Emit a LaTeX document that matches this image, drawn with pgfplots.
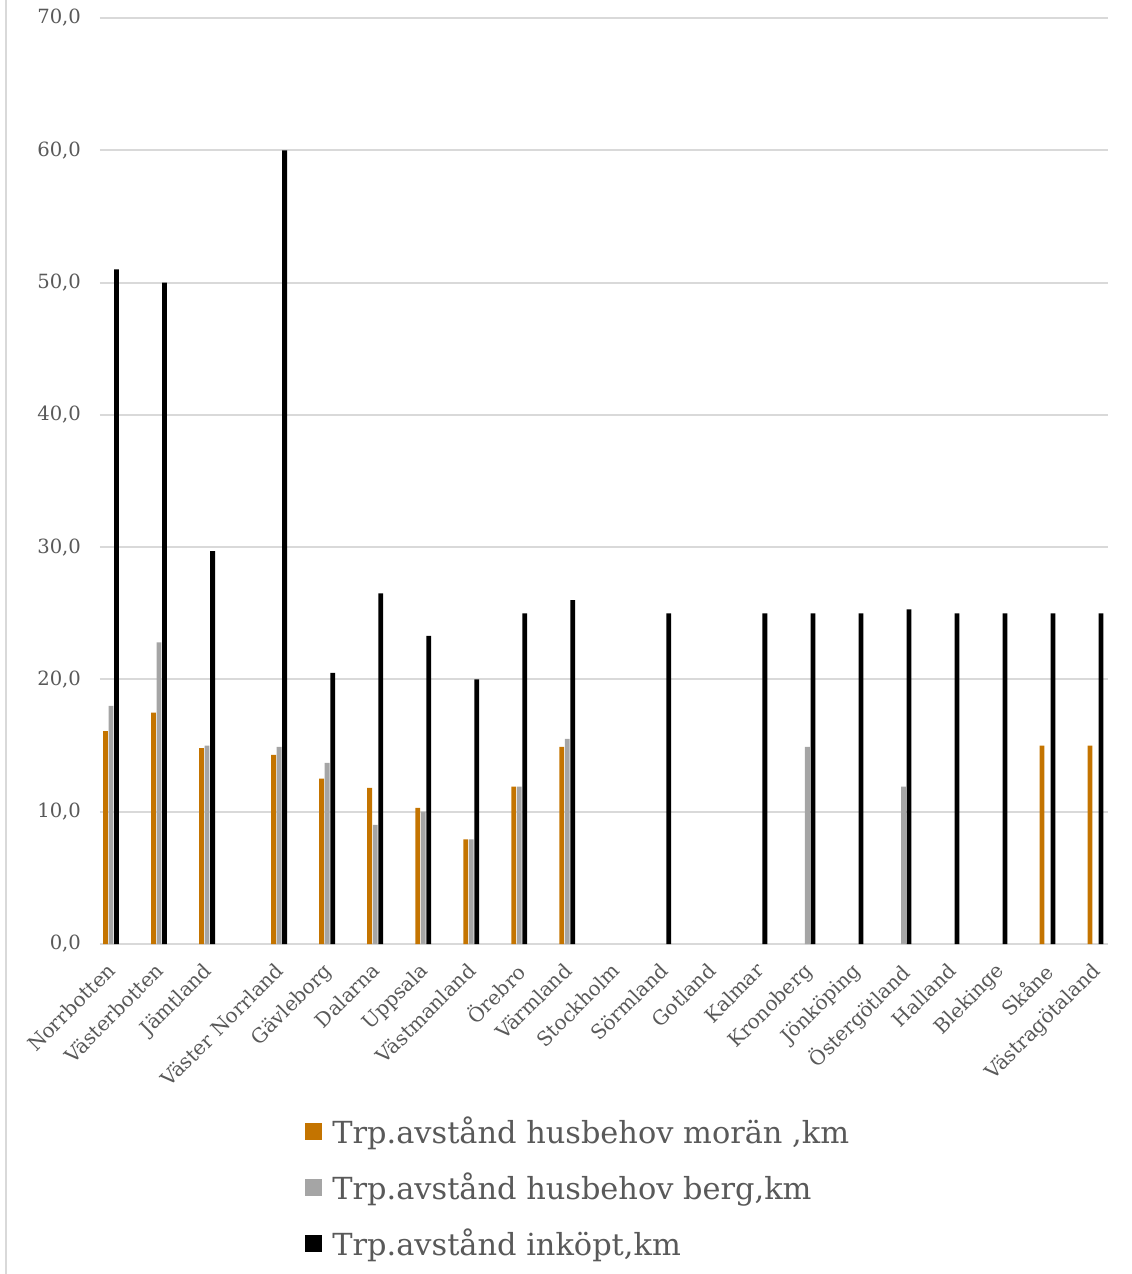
\documentclass[border=0pt]{standalone}
\usepackage{fontspec}
\setmainfont{DejaVu Serif}
\usepackage{pgfplots}
\usepackage{pgfplotstable}
\pgfplotsset{compat=1.18}

\definecolor{moran}{HTML}{C47400}
\definecolor{berg}{HTML}{A5A5A5}
\definecolor{gridgray}{HTML}{D9D9D9}
\definecolor{txt}{HTML}{595959}

% x: category position (gap after Jamtland as in the original)
\pgfplotstableread{
x     moran berg inkopt
0     16.1  18.0 51.0
1     17.5  22.8 50.0
2     14.8  15.0 29.7
3.5   14.3  14.9 60.0
4.5   12.5  13.7 20.5
5.5   11.8  9.0  26.5
6.5   10.3  10.0 23.3
7.5   7.9   7.9  20.0
8.5   11.9  11.9 25.0
9.5   14.9  15.5 26.0
10.5  nan   nan  nan
11.5  nan   nan  25.0
12.5  nan   nan  nan
13.5  nan   nan  25.0
14.5  nan   14.9 25.0
15.5  nan   nan  25.0
16.5  nan   11.9 25.3
17.5  nan   nan  25.0
18.5  nan   nan  25.0
19.5  15.0  nan  25.0
20.5  15.0  nan  25.0
}\data

\pgfplotsset{leg/.style={legend image code/.code={\fill[##1,draw=none] (0pt,-4.25pt) rectangle (8.5pt,4.25pt);}}}

\begin{document}
\begin{tikzpicture}
\path[use as bounding box] (-50pt,-165pt) rectangle (515.5pt,472pt);
\draw[gridgray, line width=1pt] (-47pt,-165pt) -- (-47pt,472pt);
\begin{axis}[
  at={(0,0)}, anchor=south west,
  scale only axis, width=504pt, height=463pt,
  ybar, bar width=0.1,
  xmin=-0.23, xmax=20.76,
  ymin=0, ymax=70, ytick={0,10,...,70},
  xtick={0,1,2,3.5,4.5,5.5,6.5,7.5,8.5,9.5,10.5,11.5,12.5,13.5,14.5,15.5,16.5,17.5,18.5,19.5,20.5},
  xticklabels={Norrbotten,Västerbotten,Jämtland,Väster Norrland,Gävleborg,Dalarna,Uppsala,Västmanland,Örebro,Värmland,Stockholm,Sörmland,Gotland,Kalmar,Kronoberg,Jönköping,Östergötland,Halland,Blekinge,Skåne,Västragötaland},
  axis line style={draw=none},
  major tick length=0pt,
  ymajorgrids, grid style={gridgray, line width=1pt},
  /pgf/number format/assume math mode=true,
  yticklabel style={/pgf/number format/fixed, /pgf/number format/fixed zerofill,
    /pgf/number format/precision=1, /pgf/number format/use comma,
    anchor=east, xshift=-6pt, font=\fontsize{9.8}{11}\selectfont},
  tick label style={text=txt},
  xticklabel style={rotate=45, anchor=north east, inner sep=1pt, xshift=-6.7pt, yshift=-3.2pt,
    font=\fontsize{10}{12}\selectfont},
  legend style={at={(0.2034,-0.182)}, anchor=north west, draw=none, fill=none,
    inner sep=0pt, row sep=9pt, text=txt, font=\fontsize{15.2}{18}\selectfont,
    /tikz/every odd column/.append style={column sep=3pt}},
  legend cell align=left,
]
\addplot[fill=moran, draw=none, bar shift=-0.115, leg] table[x=x, y=moran] {\data};
\addlegendentry{Trp.avstånd husbehov morän ,km}
\addplot[fill=berg, draw=none, bar shift=0, leg] table[x=x, y=berg] {\data};
\addlegendentry{Trp.avstånd husbehov berg,km}
\addplot[fill=black, draw=none, bar shift=0.115, leg] table[x=x, y=inkopt] {\data};
\addlegendentry{Trp.avstånd inköpt,km}
\end{axis}
\end{tikzpicture}
\end{document}
